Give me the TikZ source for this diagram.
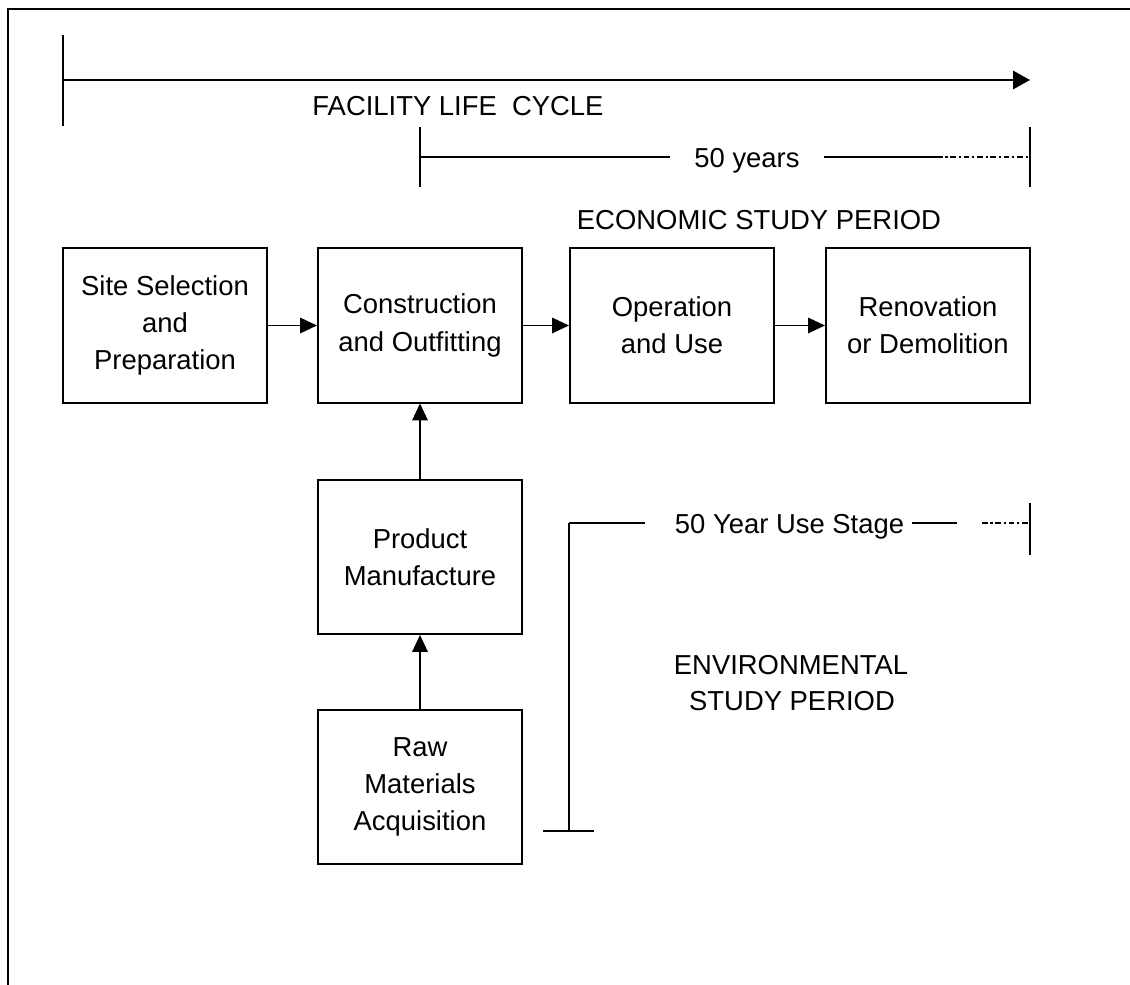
\documentclass[tikz,border=0pt]{standalone}
\usepackage{fontspec}
\setmainfont{Liberation Sans}
\usetikzlibrary{arrows.meta,positioning}
\tikzset{
    stagebox/.style={draw, line width=1.4pt, minimum width=5.1cm, minimum height=3.85cm, align=center, inner sep=0pt},
    flowarrow/.style={line width=1.2pt, -{Triangle[length=12pt,width=11pt]}},
    dimline/.style={line width=1pt},
    dotdash/.style={line width=0.9pt, dash pattern=on 4pt off 2pt on 1.5pt off 2pt},
    lbl/.style={anchor=base, inner sep=0pt}
}
\begin{document}
\begin{tikzpicture}[x=0.025cm, y=-0.025cm, font=\fontsize{19.5}{26.5}\selectfont]
        \useasboundingbox (0,0) rectangle (1130,985);
        \draw[line width=2pt] (8,985) -- (8,9) -- (1130,9);
        % facility life cycle
        \coordinate (lcstart) at (63,80);
        \coordinate (lcend) at (1030,80);
        \draw[line width=1.5pt] (63,35) -- (63,126);
        \draw[line width=1.3pt, -{Triangle[length=12pt,width=13pt]}] (lcstart) -- (lcend);
        \node[lbl] (lifecycle) at (458,116) {FACILITY LIFE\ \ CYCLE};
        % economic study period
        \draw[dimline] (420,127) -- (420,187);
        \draw[dimline] (1030,127) -- (1030,187);
        \node[lbl] (fiftyyears) at (747,167) {50 years};
        \draw[dimline] (420,157) -- (670,157);
        \draw[dimline] (824,157) -- (937,157);
        \draw[dotdash] (937,157) -- (1030,157);
        \node[lbl] (econ) at (759,229) {ECONOMIC STUDY PERIOD};
        % stages
        \node[stagebox] (site) at (165,325.5) {Site Selection\\and\\Preparation};
        \node[stagebox] (constr) at (420,325.5) {Construction\\and Outfitting};
        \node[stagebox] (oper) at (672,325.5) {Operation\\and Use};
        \node[stagebox] (renov) at (928,325.5) {Renovation\\or Demolition};
        \node[stagebox] (prod) at (420,557) {Product\\Manufacture};
        \node[stagebox] (raw) at (420,787) {Raw\\Materials\\Acquisition};
        \draw[flowarrow] (site) -- (constr);
        \draw[flowarrow] (constr) -- (oper);
        \draw[flowarrow] (oper) -- (renov);
        \draw[flowarrow] (prod) -- (constr);
        \draw[flowarrow] (raw) -- (prod);
        % environmental study period
        \draw[line width=1.5pt] (569,523) -- (569,831);
        \draw[line width=1.2pt] (543,831) -- (594,831);
        \draw[dimline] (569,523) -- (645,523);
        \node[lbl] (usestage) at (789.5,533) {50 Year Use Stage};
        \draw[dimline] (912,523) -- (957,523);
        \draw[dotdash] (982,523) -- (1030,523);
        \draw[line width=1.5pt] (1030,503) -- (1030,555);
        \node[lbl] (enva) at (791,674) {ENVIRONMENTAL};
        \node[lbl] (envb) at (792,710) {STUDY PERIOD};
\end{tikzpicture}
\end{document}
